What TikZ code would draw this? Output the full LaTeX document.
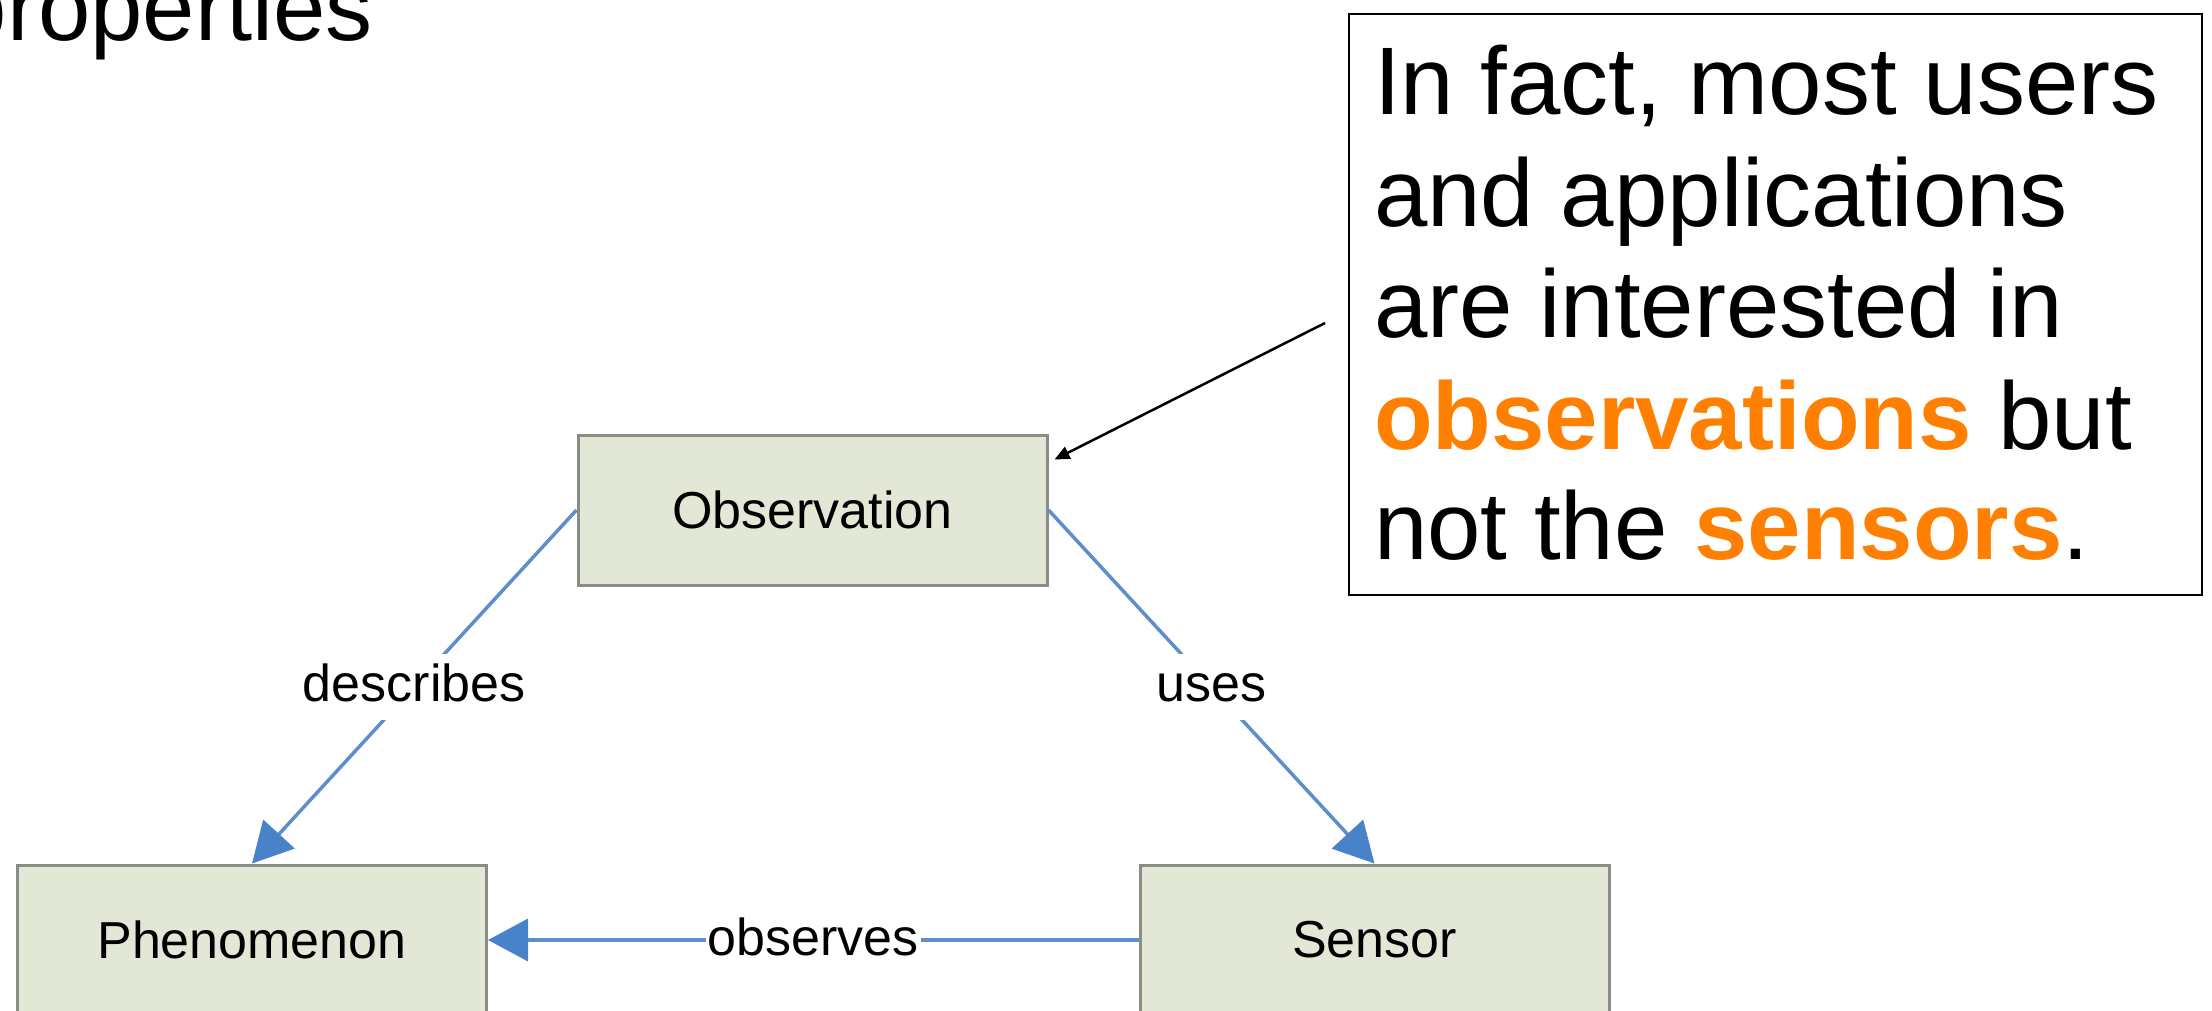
\documentclass[tikz,border=0pt]{standalone}
\usepackage{fontspec}
\setmainfont{Liberation Sans}
\usetikzlibrary{arrows.meta,calc}

\definecolor{boxfill}{RGB}{226,231,214}
\definecolor{boxline}{RGB}{138,141,133}
\definecolor{linkblue}{RGB}{96,142,204}
\definecolor{tipblue}{RGB}{72,131,201}
\definecolor{accent}{RGB}{255,128,0}

\newcommand\keyword[1]{\textcolor{accent}{\bfseries #1}}

\begin{document}
\begin{tikzpicture}[x=1pt,y=-1pt,
  concept/.style={draw=boxline, line width=3pt, fill=boxfill,
    minimum width=469pt, minimum height=150pt, inner sep=0pt,
    font=\fontsize{52pt}{60pt}\selectfont},
  link/.style={draw=linkblue, line width=3.5pt,
    -{Triangle[length=40pt,width=42pt,color=tipblue]}},
  linklabel/.style={fill=white, font=\fontsize{52pt}{60pt}\selectfont,
    text height=44pt, text depth=14pt, inner xsep=2pt, inner ysep=4pt},
  noteline/.style={anchor=base west, inner sep=0pt,
    font=\fontsize{96pt}{110pt}\selectfont},
  pointer/.style={draw=black, line width=2.5pt,
    -{Triangle[length=15pt,width=13pt]}}
]
\useasboundingbox (0,0) rectangle (2212,1010);
\clip (0,0) rectangle (2212,1010);
\fill[white] (0,0) rectangle (2212,1010);

% heading fragment at the top left
\node[anchor=base east, inner sep=0pt, font=\fontsize{94pt}{110pt}\selectfont]
  (props) at (373,40) {properties};

% concept boxes
\node[concept] (obs)  at (812.5,510) {Observation};
\node[concept] (phen) at (252,940)   {Phenomenon};
\node[concept] (sens) at (1374.5,940) {Sensor};

% relations
\draw[link] (obs.west) -- node[linklabel] (ldesc) {describes} (phen.north);
\draw[link] (obs.east) -- node[linklabel] (luses) {uses} (sens.north);
\draw[link] (sens.west) -- node[linklabel] (lobs) {observes} (phen.east);

% note box
\node[draw=black, line width=2pt, minimum width=853pt, minimum height=581pt,
  anchor=north west, inner sep=0pt] (note) at (1348,13) {};
\node[noteline] (n1) at ($(note.north west)+(26,101)$) {In fact, most users};
\node[noteline] (n2) at ($(note.north west)+(26,213)$) {and applications};
\node[noteline] (n3) at ($(note.north west)+(26,324)$) {are interested in};
\node[noteline] (n4) at ($(note.north west)+(26,436)$) {\keyword{observations} but};
\node[noteline] (n5) at ($(note.north west)+(26,546)$) {not the \keyword{sensors}.};

% pointer from the note to the observation box
\coordinate (nstart) at (1325,323);
\coordinate (ntip) at ($(obs.north east)+(6,26)$);
\draw[pointer] (nstart) -- (ntip);
\end{tikzpicture}
\end{document}
